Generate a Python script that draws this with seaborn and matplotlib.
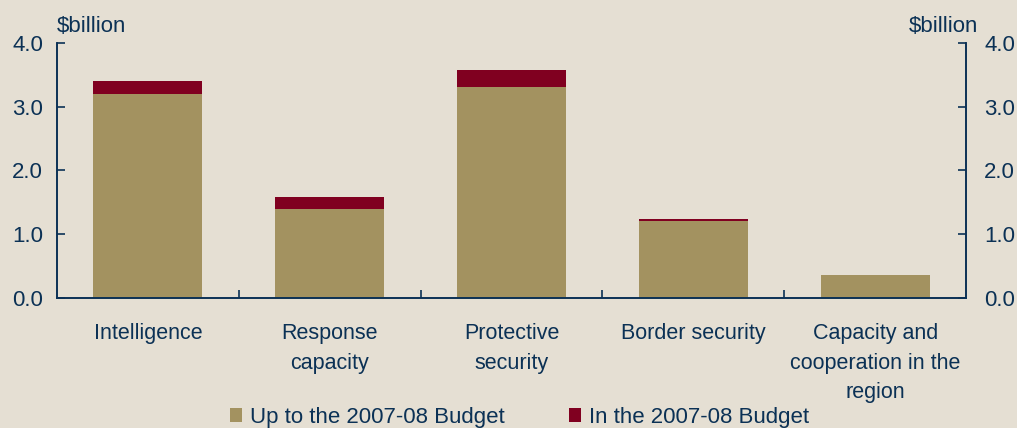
import seaborn as sns
import matplotlib.pyplot as plt
import pandas as pd

categories = ['Intelligence', 'Response\ncapacity', 'Protective\nsecurity',
              'Border security', 'Capacity and\ncooperation in the\nregion']
up_to_budget = [3.2, 1.4, 3.3, 1.21, 0.36]
in_budget = [0.2, 0.18, 0.28, 0.03, 0.0]
yticks = [0.0, 1.0, 2.0, 3.0, 4.0]

bg = '#E5DFD3'
tan = '#A39260'
red = '#800020'
navy = '#0B3155'

sns.set_style('ticks')
plt.rcParams['font.family'] = ['Liberation Sans', 'DejaVu Sans']
plt.rcParams['font.size'] = 16

df = pd.DataFrame({'cat': categories, 'base': up_to_budget, 'extra': in_budget})

fig = plt.figure(figsize=(10.17, 4.28), dpi=100, facecolor=bg)
ax = fig.add_axes([0.056, 0.304, 0.894, 0.596], facecolor=bg)

sns.barplot(data=df, x='cat', y='base', color=tan, width=0.6, ax=ax,
            saturation=1, label='Up to the 2007-08 Budget')
sns.barplot(data=df, x='cat', y='extra', color=red, width=0.6, ax=ax,
            saturation=1, bottom=df['base'], label='In the 2007-08 Budget')
for p in ax.patches:
    p.set_edgecolor('none')

ax.set_ylim(0, 4)
ax.set_xlim(-0.5, len(categories) - 0.5)
ax.set_yticks(yticks)
ax.set_yticklabels([f'{v:.1f}' for v in yticks], color=navy)
ax.set_xlabel('')
ax.set_ylabel('')
ax.tick_params(axis='x', which='major', length=0, pad=18, colors=navy, labelsize=15.5)
ax.set_xticks([i + 0.5 for i in range(len(categories) - 1)], minor=True)
ax.tick_params(axis='x', which='minor', direction='in', length=6, color=navy, width=1.2)
ax.tick_params(axis='y', direction='in', length=6, color=navy, width=1.2,
               labelcolor=navy, labelsize=16, pad=10)
for lbl in ax.get_xticklabels():
    lbl.set_linespacing(1.55)
    lbl.set_verticalalignment('top')

ax2 = ax.twinx()
ax2.set_ylim(0, 4)
ax2.set_yticks(yticks)
ax2.set_yticklabels([f'{v:.1f}' for v in yticks], color=navy)
ax2.tick_params(axis='y', direction='in', length=6, color=navy, width=1.2,
                labelcolor=navy, labelsize=16, pad=13)

for a in (ax, ax2):
    for s in ['left', 'right', 'bottom']:
        a.spines[s].set_visible(True)
        a.spines[s].set_color(navy)
        a.spines[s].set_linewidth(1.2)
    a.spines['top'].set_visible(False)

fig.text(0.056, 0.925, '$billion', color=navy, fontsize=16)
fig.text(0.962, 0.925, '$billion', color=navy, fontsize=16, ha='right')

handles, labels = ax.get_legend_handles_labels()
fig.legend(handles, labels, loc='lower center', bbox_to_anchor=(0.511, -0.046), ncol=2,
           frameon=False, fontsize=16, labelcolor=navy, handlelength=0.55,
           handleheight=0.55, columnspacing=2.9, handletextpad=0.35)

if ax.legend_:
    ax.legend_.remove()
fig.savefig('out.png', dpi=100, facecolor=bg)
